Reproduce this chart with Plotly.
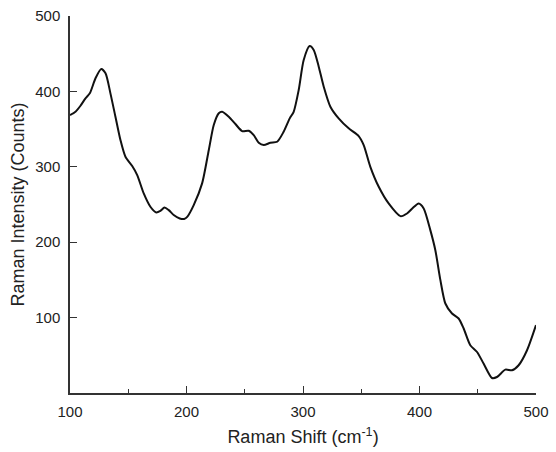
import plotly.graph_objects as go

raman_shift = [100, 104.7, 109, 113.3, 117, 121.9, 126.8, 130.5, 134.7, 139, 143.3, 147.6,
               153.4, 157.7, 163.3, 169, 174, 177.6, 181.1, 184.8, 189, 194.2, 198, 200.6,
               206.2, 213.4, 219.1, 223.4, 227.7, 230.6, 236.3, 242, 247.7, 253.4, 257.7,
               262, 266.3, 272, 277.8, 283.4, 288.6, 292, 296.3, 300.6, 305.7, 309.2,
               313.5, 317.8, 323.5, 330.6, 339.2, 347.8, 352.1, 357.8, 365, 373.5, 383.6,
               389.3, 394, 399.3, 403.6, 409.3, 413.6, 417.9, 422.2, 427.9, 433.6, 437.9,
               443.6, 449.4, 455, 462.2, 466.5, 473.7, 479.4, 485.1, 492.3, 500]
intensity = [368.6, 373, 381, 390.8, 397.4, 417.4, 429.7, 424, 397.4, 366.4, 335.5, 313.3,
             301, 289, 264.7, 247, 239.5, 241.6, 246, 242.5, 236, 231.5, 230.8, 233.6,
             249.2, 278, 322, 355.4, 371, 373, 366.4, 356.7, 347.4, 347.8, 342,
             331.9, 328.8, 331.9, 333.2, 346.5, 364.2, 373, 401.8, 441.7, 460.2, 455,
             432.8, 406.2, 379.7, 364.2, 351, 340.8, 328.8, 300, 273.5, 251.4, 234.6,
             238.1, 245, 251.4, 244.8, 216, 189.4, 150, 118.7, 105.4, 98.8, 85.5,
             63.3, 54.4, 39, 19.9, 21.2, 31, 30.1, 36.8, 56.7, 90]

x_ticks = [100, 200, 300, 400, 500]
y_ticks = [100, 200, 300, 400, 500]

fig = go.Figure()
fig.add_trace(go.Scatter(
    x=raman_shift, y=intensity, mode="lines",
    line=dict(color="#111111", width=2, shape="spline", smoothing=0.7),
    showlegend=False, hoverinfo="skip"))

font_family = "Liberation Sans, Arial, sans-serif"
fig.update_layout(
    width=556, height=452,
    margin=dict(l=70, r=20, t=16, b=59),
    paper_bgcolor="white", plot_bgcolor="white",
    font=dict(family=font_family, color="#222222"),
)
fig.update_xaxes(
    range=[100, 500], tickvals=x_ticks, ticktext=[str(v) for v in x_ticks],
    automargin=False,
    showgrid=False, zeroline=False, showline=True, linecolor="#333333", linewidth=1.5,
    ticks="inside", ticklen=7, tickwidth=1.3, tickcolor="#333333",
    ticklabelstandoff=4,
    minor=dict(tickvals=[150, 250, 350, 450], ticks="inside", ticklen=4, tickwidth=1.3, tickcolor="#333333"),
    tickfont=dict(size=15, color="#222222"),
    title=dict(text="Raman Shift (cm<sup>-1</sup>)", font=dict(size=18, color="#222222"), standoff=12),
)
fig.update_yaxes(
    range=[0, 500], tickvals=y_ticks, ticktext=[str(v) for v in y_ticks],
    automargin=False,
    showgrid=False, zeroline=False, showline=True, linecolor="#333333", linewidth=1.5,
    ticks="inside", ticklen=7, tickwidth=1.3, tickcolor="#333333",
    ticklabelstandoff=5,
    tickfont=dict(size=15, color="#222222"),
    title=dict(text="Raman Intensity (Counts)", font=dict(size=18, color="#222222"), standoff=6),
)
fig.write_html("out.html", config={"displayModeBar": False},
               post_script="document.body.style.margin='0';document.body.style.overflow='hidden';")
